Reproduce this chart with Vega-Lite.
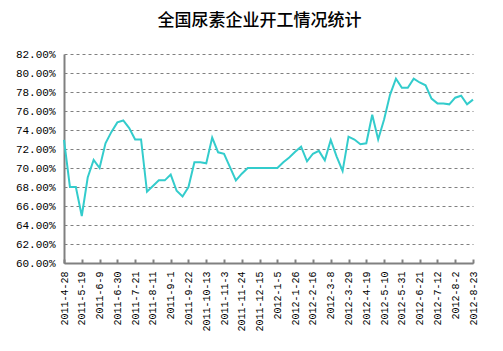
{
  "$schema": "https://vega.github.io/schema/vega-lite/v6.json",
  "width": 409,
  "height": 209,
  "autosize": {"type": "none"},
  "padding": {"left": 64, "top": 54, "right": 30, "bottom": 88},
  "background": "white",
  "title": {
    "text": "全国尿素企业开工情况统计",
    "font": "Noto Sans CJK SC",
    "fontSize": 17,
    "fontWeight": 500,
    "color": "#000000",
    "anchor": "middle",
    "dx": -9,
    "offset": 18
  },
  "data": {
    "values": [
      {"date": "2011-4-28", "rate": 0.7295},
      {"date": "2011-5-5", "rate": 0.680},
      {"date": "2011-5-12", "rate": 0.680},
      {"date": "2011-5-19", "rate": 0.6495},
      {"date": "2011-5-26", "rate": 0.690},
      {"date": "2011-6-2", "rate": 0.7085},
      {"date": "2011-6-9", "rate": 0.700},
      {"date": "2011-6-16", "rate": 0.726},
      {"date": "2011-6-23", "rate": 0.738},
      {"date": "2011-6-30", "rate": 0.748},
      {"date": "2011-7-7", "rate": 0.750},
      {"date": "2011-7-14", "rate": 0.742},
      {"date": "2011-7-21", "rate": 0.730},
      {"date": "2011-7-28", "rate": 0.730},
      {"date": "2011-8-4", "rate": 0.675},
      {"date": "2011-8-11", "rate": 0.681},
      {"date": "2011-8-18", "rate": 0.687},
      {"date": "2011-8-25", "rate": 0.687},
      {"date": "2011-9-1", "rate": 0.693},
      {"date": "2011-9-8", "rate": 0.676},
      {"date": "2011-9-15", "rate": 0.670},
      {"date": "2011-9-22", "rate": 0.680},
      {"date": "2011-9-29", "rate": 0.706},
      {"date": "2011-10-6", "rate": 0.706},
      {"date": "2011-10-13", "rate": 0.705},
      {"date": "2011-10-20", "rate": 0.732},
      {"date": "2011-10-27", "rate": 0.7165},
      {"date": "2011-11-3", "rate": 0.715},
      {"date": "2011-11-10", "rate": 0.701},
      {"date": "2011-11-17", "rate": 0.687},
      {"date": "2011-11-24", "rate": 0.694},
      {"date": "2011-12-1", "rate": 0.700},
      {"date": "2011-12-8", "rate": 0.700},
      {"date": "2011-12-15", "rate": 0.700},
      {"date": "2011-12-22", "rate": 0.700},
      {"date": "2011-12-29", "rate": 0.700},
      {"date": "2012-1-5", "rate": 0.700},
      {"date": "2012-1-12", "rate": 0.706},
      {"date": "2012-1-19", "rate": 0.711},
      {"date": "2012-1-26", "rate": 0.717},
      {"date": "2012-2-2", "rate": 0.7225},
      {"date": "2012-2-9", "rate": 0.707},
      {"date": "2012-2-16", "rate": 0.715},
      {"date": "2012-2-23", "rate": 0.718},
      {"date": "2012-3-1", "rate": 0.708},
      {"date": "2012-3-8", "rate": 0.7295},
      {"date": "2012-3-15", "rate": 0.712},
      {"date": "2012-3-22", "rate": 0.697},
      {"date": "2012-3-29", "rate": 0.733},
      {"date": "2012-4-5", "rate": 0.730},
      {"date": "2012-4-12", "rate": 0.725},
      {"date": "2012-4-19", "rate": 0.726},
      {"date": "2012-4-26", "rate": 0.756},
      {"date": "2012-5-3", "rate": 0.730},
      {"date": "2012-5-10", "rate": 0.751},
      {"date": "2012-5-17", "rate": 0.777},
      {"date": "2012-5-24", "rate": 0.794},
      {"date": "2012-5-31", "rate": 0.7845},
      {"date": "2012-6-7", "rate": 0.7845},
      {"date": "2012-6-14", "rate": 0.794},
      {"date": "2012-6-21", "rate": 0.790},
      {"date": "2012-6-28", "rate": 0.787},
      {"date": "2012-7-5", "rate": 0.773},
      {"date": "2012-7-12", "rate": 0.768},
      {"date": "2012-7-19", "rate": 0.768},
      {"date": "2012-7-26", "rate": 0.767},
      {"date": "2012-8-2", "rate": 0.774},
      {"date": "2012-8-9", "rate": 0.776},
      {"date": "2012-8-16", "rate": 0.767},
      {"date": "2012-8-23", "rate": 0.772}
    ]
  },
  "mark": {"type": "line", "color": "#33CCCC", "strokeWidth": 2},
  "encoding": {
    "x": {
      "field": "date",
      "type": "ordinal",
      "sort": null,
      "scale": {"type": "point", "padding": 0},
      "axis": {
        "title": null,
        "values": ["2011-4-28", "2011-5-19", "2011-6-9", "2011-6-30", "2011-7-21", "2011-8-11", "2011-9-1", "2011-9-22", "2011-10-13", "2011-11-3", "2011-11-24", "2011-12-15", "2012-1-5", "2012-1-26", "2012-2-16", "2012-3-8", "2012-3-29", "2012-4-19", "2012-5-10", "2012-5-31", "2012-6-21", "2012-7-12", "2012-8-2", "2012-8-23"],
        "labelAngle": 270,
        "labelAlign": "right",
        "labelBaseline": "middle",
        "labelFont": "Liberation Mono",
        "labelFontSize": 10,
        "labelColor": "#000000",
        "labelPadding": 12,
        "domainColor": "#808080",
        "domainWidth": 2,
        "tickColor": "#808080",
        "tickWidth": 2,
        "tickSize": -4,
        "grid": false
      }
    },
    "y": {
      "field": "rate",
      "type": "quantitative",
      "scale": {"domain": [0.6, 0.82], "nice": false, "zero": false},
      "axis": {
        "title": null,
        "format": ".2%",
        "values": [0.6, 0.62, 0.64, 0.66, 0.68, 0.7, 0.72, 0.74, 0.76, 0.78, 0.8, 0.82],
        "labelFont": "Liberation Mono",
        "labelFontSize": 11,
        "labelColor": "#000000",
        "labelPadding": 9,
        "ticks": false,
        "domainColor": "#808080",
        "domainWidth": 2,
        "grid": true,
        "gridColor": "#808080",
        "gridDash": [3, 3],
        "gridWidth": 1
      }
    }
  },
  "config": {
    "view": {"stroke": null}
  }
}
